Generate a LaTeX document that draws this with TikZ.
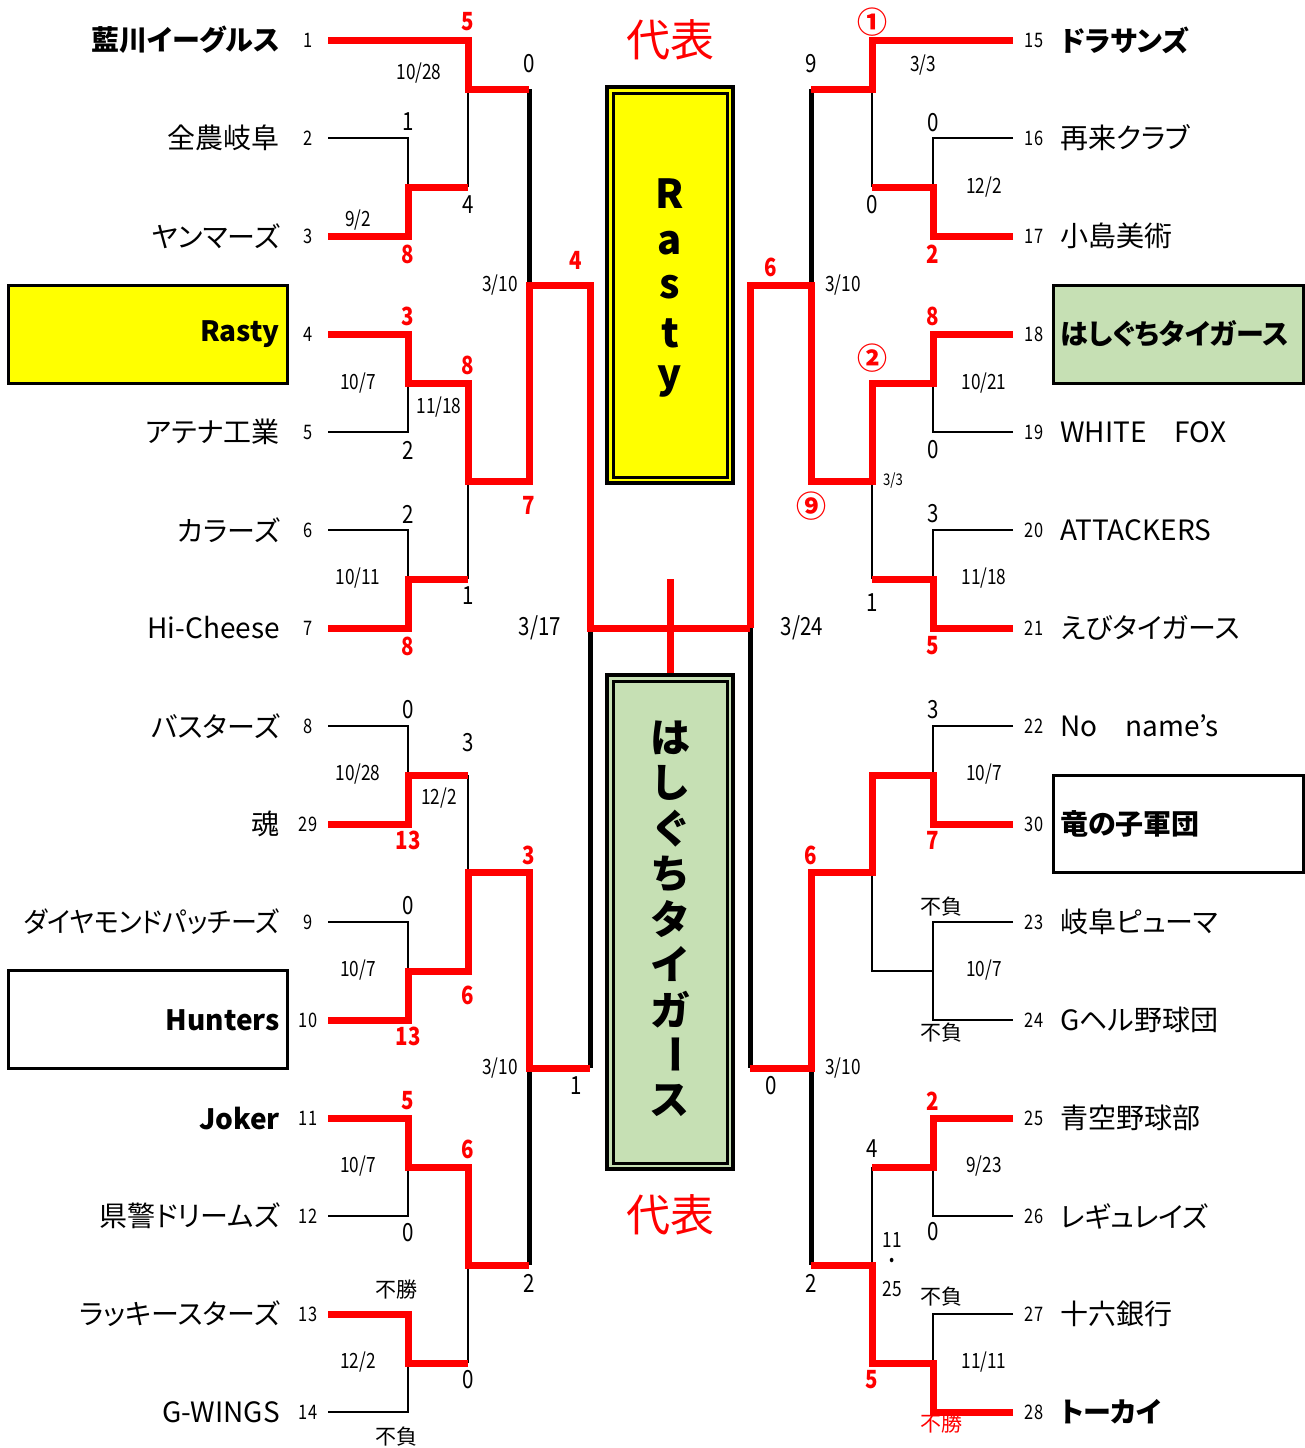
\documentclass[tikz,border=0pt]{standalone}
\usepackage{fontspec}
\usepackage{graphicx}
\setmainfont{Noto Sans CJK JP}[RawFeature=+palt]
\newfontfamily\numfont{Noto Sans CJK JP}[FakeStretch=0.82]
\usepackage{xcolor}
\definecolor{rastyyellow}{RGB}{255,255,0}
\definecolor{tigergreen}{RGB}{198,224,180}

\tikzset{
  win/.style={draw=red, line width=7pt},
  lose/.style={draw=black, line width=2.5pt},
  bigline/.style={draw=black, line width=5pt},
  namebox/.style={draw=black, line width=3pt},
  lteam/.style={anchor=east, inner sep=0pt, font=\fontsize{28}{28}\selectfont},
  rteam/.style={anchor=west, inner sep=0pt, font=\fontsize{28}{28}\selectfont},
  seed/.style={inner sep=0pt, font=\numfont\fontsize{20}{20}\selectfont},
  pts/.style={inner sep=0pt, font=\numfont\fontsize{25}{25}\selectfont},
  wpts/.style={inner sep=0pt, text=red, font=\numfont\bfseries\fontsize{25}{25}\selectfont},
  day/.style={inner sep=0pt, font=\numfont\fontsize{21}{21}\selectfont},
  circnum/.style={inner sep=0pt, text=red, font=\bfseries\fontsize{30}{30}\selectfont},
  rep/.style={inner sep=0pt, text=red, font=\fontsize{44}{44}\selectfont},
  vchar/.style={inner sep=0pt, font=\bfseries\fontsize{40}{40}\selectfont},
  nowin/.style={inner sep=0pt, font=\fontsize{21}{21}\selectfont},
}

\begin{document}
\begin{tikzpicture}[x=1pt, y=-1pt]
  \useasboundingbox (0,0) rectangle (1304,1448);

  % boxes behind the team names
  \fill[rastyyellow] (8,285) rectangle (287,383);
  \draw[namebox] (8,285) rectangle (287,383);
  \draw[namebox] (8,970) rectangle (287,1068);
  \fill[tigergreen] (1053,285) rectangle (1303,383);
  \draw[namebox] (1053,285) rectangle (1303,383);
  \draw[namebox] (1053,775) rectangle (1303,872);

  % losing lines
  \draw[lose] (468,89) -- (468,187);
  \draw[lose] (328,138) -- (408,138) -- (408,187);
  \draw[lose] (328,432) -- (408,432) -- (408,383);
  \draw[lose] (328,530) -- (408,530) -- (408,579);
  \draw[lose] (468,481) -- (468,579);
  \draw[lose] (328,726) -- (408,726) -- (408,775);
  \draw[lose] (468,775) -- (468,872);
  \draw[lose] (328,922) -- (408,922) -- (408,971);
  \draw[lose] (328,1216) -- (408,1216) -- (408,1167);
  \draw[lose] (328,1412) -- (408,1412) -- (408,1363);
  \draw[lose] (468,1265) -- (468,1363);
  \draw[bigline] (529,89) -- (529,285);
  \draw[bigline] (529,1068) -- (529,1265);
  \draw[bigline] (590,628) -- (590,1068);

  \draw[lose] (872,89) -- (872,187);
  \draw[lose] (1013,138) -- (933,138) -- (933,187);
  \draw[lose] (1013,432) -- (933,432) -- (933,383);
  \draw[lose] (1013,530) -- (933,530) -- (933,579);
  \draw[lose] (872,481) -- (872,579);
  \draw[lose] (1013,726) -- (933,726) -- (933,775);
  \draw[lose] (872,872) -- (872,971) -- (933,971);
  \draw[lose] (1013,922) -- (933,922) -- (933,1020) -- (1013,1020);
  \draw[lose] (1013,1216) -- (933,1216) -- (933,1167);
  \draw[lose] (872,1167) -- (872,1265);
  \draw[lose] (1013,1314) -- (933,1314) -- (933,1363);
  \draw[bigline] (811,89) -- (811,285);
  \draw[bigline] (750,628) -- (750,1068);
  \draw[bigline] (811,1068) -- (811,1265);

  % winning lines
  \draw[win] (328,40) -- (468,40) -- (468,89) -- (529,89);
  \draw[win] (328,236) -- (408,236) -- (408,187) -- (468,187);
  \draw[win] (328,334) -- (408,334) -- (408,383) -- (468,383) -- (468,481) -- (529,481) -- (529,285) -- (590,285) -- (590,628) -- (750,628);
  \draw[win] (328,628) -- (408,628) -- (408,579) -- (468,579);
  \draw[win] (328,824) -- (408,824) -- (408,775) -- (468,775);
  \draw[win] (328,1020) -- (408,1020) -- (408,971) -- (468,971) -- (468,872) -- (529,872) -- (529,1068) -- (590,1068);
  \draw[win] (328,1118) -- (408,1118) -- (408,1167) -- (468,1167) -- (468,1265) -- (529,1265);
  \draw[win] (328,1314) -- (408,1314) -- (408,1363) -- (468,1363);

  \draw[win] (1013,40) -- (872,40) -- (872,89) -- (811,89);
  \draw[win] (1013,236) -- (933,236) -- (933,187) -- (872,187);
  \draw[win] (1013,334) -- (933,334) -- (933,383) -- (872,383) -- (872,481) -- (811,481) -- (811,285) -- (750,285) -- (750,628);
  \draw[win] (1013,628) -- (933,628) -- (933,579) -- (872,579);
  \draw[win] (1013,824) -- (933,824) -- (933,775) -- (872,775) -- (872,872) -- (811,872) -- (811,1068) -- (750,1068);
  \draw[win] (1013,1118) -- (933,1118) -- (933,1167) -- (872,1167);
  \draw[win] (1013,1412) -- (933,1412) -- (933,1363) -- (872,1363) -- (872,1265) -- (811,1265);
  \draw[win] (670,579) -- (670,675);

  % representatives
  \filldraw[fill=rastyyellow, line width=3.5pt] (607,87) rectangle (733,483);
  \draw[line width=3pt] (613,93) rectangle (727,477);
  \filldraw[fill=tigergreen, line width=3.5pt] (607,675) rectangle (733,1169);
  \draw[line width=3pt] (613,681) rectangle (727,1163);
  \node[rep] (rep1) at (670,40) {代表};
  \node[rep] (rep2) at (670,1215) {代表};
  \foreach \c/\y [count=\k] in {R/194,a/243,s/287,t/333,y/381}
    \node[vchar] (rasty\k) at (670,\y) {\c};
  \foreach \c [count=\k from 0] in {は,し,ぐ,ち,タ,イ,ガ}
    \node[vchar] (tiger\k) at (670,738+45.2*\k) {\c};
  \node[vchar, rotate=-90] (tiger7) at (670,1054) {ー};
  \node[vchar] (tiger8) at (670,1100) {ス};

  % teams
  \foreach \n/\team [count=\i from 0] in {1/{\bfseries 藍川イーグルス}, 2/全農岐阜, 3/ヤンマーズ, 4/{\bfseries Rasty}, 5/アテナ工業, 6/カラーズ, 7/Hi-Cheese, 8/バスターズ, 29/魂, 9/{\scalebox{0.93}[1]{ダイヤモンドパッチーズ}}, 10/{\bfseries Hunters}, 11/{\bfseries Joker}, 12/県警ドリームズ, 13/ラッキースターズ, 14/G-WINGS} {
    \node[seed] (seed\n) at (308,40+98*\i) {\n};
    \node[lteam] (team\n) at (280,40+98*\i) {\team};
  }
  \foreach \n/\team [count=\i from 0] in {15/{\bfseries ドラサンズ}, 16/再来クラブ, 17/小島美術, 18/{\bfseries はしぐちタイガース}, 19/WHITE　FOX, 20/ATTACKERS, 21/えびタイガース, 22/No　name’s, 30/{\bfseries 竜の子軍団}, 23/岐阜ピューマ, 24/Gヘル野球団, 25/青空野球部, 26/レギュレイズ, 27/十六銀行, 28/{\bfseries トーカイ}} {
    \node[seed] (seed\n) at (1034,40+98*\i) {\n};
    \node[rteam] (team\n) at (1060,40+98*\i) {\team};
  }

  % scores
  \foreach \x/\y/\s [count=\k] in {529/64/0, 408/122/1, 468/205/4, 408/450/2, 408/514/2, 468/596/1, 408/710/0, 468/743/3, 408/906/0, 576/1086/1, 408/1233/0, 529/1283/2, 468/1380/0, 811/64/9, 933/123/0, 872/205/0, 933/450/0, 933/514/3, 872/603/1, 933/710/3, 771/1086/0, 872/1149/4, 933/1232/0, 811/1283/2}
    \node[pts] (lost\k) at (\x,\y) {\s};
  \foreach \x/\y/\s [count=\k] in {468/22/5, 408/254/8, 576/260/4, 408/316/3, 468/365/8, 529/505/7, 408/646/8, 408/840/13, 529/855/3, 468/995/6, 408/1036/13, 408/1101/5, 468/1149/6, 771/267/6, 933/254/2, 933/316/8, 933/646/5, 933/840/7, 811/855/6, 933/1101/2, 872/1380/5}
    \node[wpts] (won\k) at (\x,\y) {\s};
  \node[circnum] (game1) at (872,22) {①};
  \node[circnum] (game2) at (872,358) {②};
  \node[circnum] (game9) at (811,506) {⑨};

  % dates
  \foreach \x/\y/\d [count=\k] in {419/73/{10/28}, 358/220/{9/2}, 500/285/{3/10}, 358/383/{10/7}, 439/407/{11/18}, 358/578/{10/11}, 358/774/{10/28}, 439/798/{12/2}, 358/970/{10/7}, 500/1068/{3/10}, 358/1166/{10/7}, 358/1362/{12/2}, 923/65/{3/3}, 984/187/{12/2}, 843/285/{3/10}, 984/383/{10/21}, 984/578/{11/18}, 984/774/{10/7}, 984/970/{10/7}, 843/1068/{3/10}, 984/1166/{9/23}, 984/1362/{11/11}, 892/1240/11, 892/1289/25}
    \node[day] (day\k) at (\x,\y) {\d};
  \node[day] (daydot) at (892,1263) {・};
  \node[day, font=\numfont\fontsize{16}{16}\selectfont] (day33) at (893,481) {3/3};
  \node[day, font=\numfont\fontsize{25}{25}\selectfont] (finalL) at (540,628) {3/17};
  \node[day, font=\numfont\fontsize{25}{25}\selectfont] (finalR) at (802,628) {3/24};

  % walkovers
  \node[nowin] (wo1) at (396,1290) {不勝};
  \node[nowin] (wo2) at (396,1437) {不負};
  \node[nowin] (wo3) at (941,907) {不負};
  \node[nowin] (wo4) at (941,1033) {不負};
  \node[nowin] (wo5) at (941,1297) {不負};
  \node[nowin, text=red] (wo6) at (941,1424) {不勝};
\end{tikzpicture}
\end{document}
